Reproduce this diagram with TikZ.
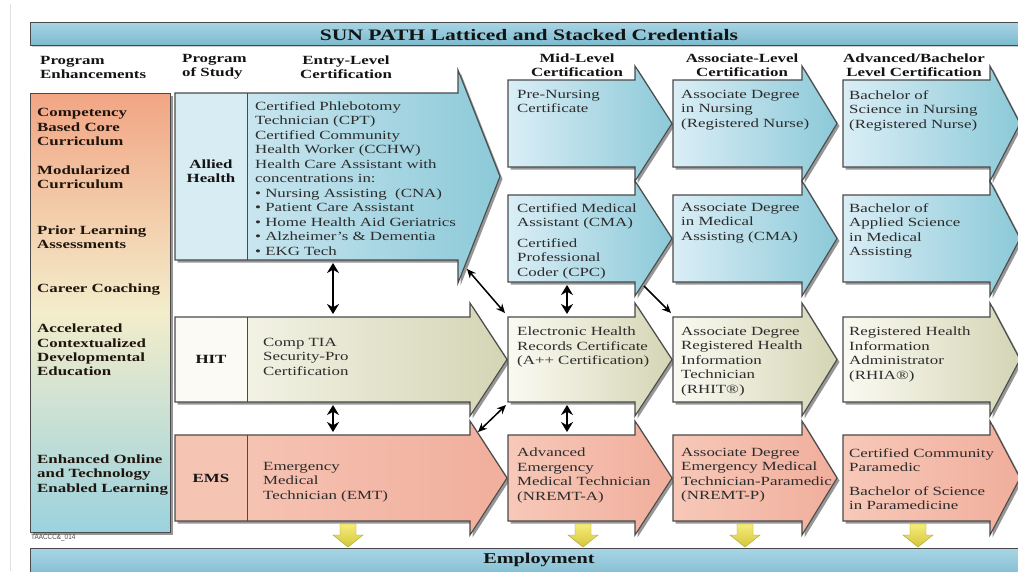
\documentclass[tikz,border=0pt]{standalone}
\usepackage{fontspec}
\setmainfont{Liberation Serif}[FakeStretch=1.35]
\newfontfamily\tagfont{Liberation Sans}[FakeStretch=0.85]
\usetikzlibrary{arrows.meta,shadows}

\definecolor{edge}{HTML}{4A4A4A}
\definecolor{blueL}{HTML}{DAEEF6}
\definecolor{blueR}{HTML}{8CC9D8}
\definecolor{blueLab}{HTML}{D8ECF4}
\definecolor{creamL}{HTML}{FBFAF2}
\definecolor{creamR}{HTML}{D4D5B5}
\definecolor{creamLab}{HTML}{FBFAF4}
\definecolor{salL}{HTML}{F7C8B8}
\definecolor{salR}{HTML}{F1AE9C}
\definecolor{salLab}{HTML}{F6C4B3}
\definecolor{barTop}{HTML}{A8D5E5}
\definecolor{barBot}{HTML}{7DBACE}
\definecolor{enhTop}{HTML}{F2A584}
\definecolor{enhMid}{HTML}{F3EDCB}
\definecolor{enhBot}{HTML}{9CD2DE}
\definecolor{txt}{HTML}{2C2C2C}
\definecolor{hdr}{HTML}{141414}
\definecolor{enhtxt}{HTML}{20150D}
\definecolor{yelL}{HTML}{F6EC78}
\definecolor{yelD}{HTML}{D4C63C}

% credential arrow: #1 style, #2 left, #3 top, #4 neck, #5 bottom, #6 tip, #7 flare
\newcommand{\credarrow}[7]{%
  \path[#1] (#2,#3) -- (#4,#3) -- ({#4},{#3-#7}) -- ({#6},{(#3+#5)/2})
    -- ({#4},{#5+#7}) -- (#4,#5) -- (#2,#5) -- cycle;}
% yellow drop arrow centred on #1
\newcommand{\droparrow}[1]{%
  \path[yel] ({#1-8},524) -- ({#1+8},524) -- ({#1+8},535) -- ({#1+15},535)
    -- (#1,547) -- ({#1-15},535) -- ({#1-8},535) -- cycle;}

\begin{document}
\begin{tikzpicture}[x=1pt,y=-1pt,
  shade/.style={drop shadow={shadow xshift=2.5pt,shadow yshift=-2.5pt,opacity=0.55,fill=black!75}},
  blue arrow/.style={draw=edge,line width=1.1pt,left color=blueL,right color=blueR,shade},
  cream arrow/.style={draw=edge,line width=1.1pt,left color=creamL,right color=creamR,shade},
  salmon arrow/.style={draw=edge,line width=1.1pt,left color=salL,right color=salR,shade},
  bar/.style={draw=edge,line width=1pt,top color=barTop,bottom color=barBot},
  yel/.style={draw=yelD!80!black,line width=0.4pt,top color=yelL,bottom color=yelD},
  body/.style={font=\fontsize{12.5}{14.5}\selectfont,text=txt,align=left,inner sep=0pt,anchor=north west},
  head/.style={font=\bfseries\fontsize{12.5}{14}\selectfont,text=hdr,inner sep=0pt},
  enh/.style={font=\bfseries\fontsize{12.5}{14.2}\selectfont,text=enhtxt,align=left,inner sep=0pt,anchor=west},
  prog/.style={font=\bfseries\fontsize{12.5}{14}\selectfont,text=hdr,align=center,inner sep=0pt},
  vlink/.style={line width=2pt,{Stealth[length=10pt,width=12pt]}-{Stealth[length=10pt,width=12pt]}},
  dlink/.style={line width=1.5pt,{Stealth[length=9pt,width=8pt]}-{Stealth[length=9pt,width=8pt]}},
  olink/.style={line width=1.5pt,-{Stealth[length=9pt,width=8pt]}}]

\useasboundingbox (0,0) rectangle (1018,571);
\clip (0,0) rectangle (1018,571);
\fill[white] (0,0) rectangle (1018,571);
\draw[gray!25,line width=0.8pt] (10,4) -- (10,571);

% title bar
\path[bar,drop shadow={shadow xshift=1.5pt,shadow yshift=-1.5pt,opacity=0.4}] (30,22) rectangle (1030,45);
\node[font=\bfseries\fontsize{16}{18}\selectfont,text=hdr] (title) at (529,35) {SUN PATH Latticed and Stacked Credentials};

% column headings
\node[head,align=left,anchor=west] (h-enh) at (40,67) {Program\\Enhancements};
\node[head,align=left,anchor=west] (h-prog) at (182,67) {Program\\of Study};
\node[head,align=center] (h-entry) at (346,67) {Entry-Level\\Certification};
\node[head,align=center] (h-mid) at (577,65) {Mid-Level\\Certification};
\node[head,align=center] (h-assoc) at (742,65) {Associate-Level\\Certification};
\node[head,align=center] (h-adv) at (914,65) {Advanced/Bachelor\\Level Certification};

% program enhancements column
\path[draw=edge,line width=1pt,top color=enhTop,bottom color=enhBot,middle color=enhMid,shade] (30,93) rectangle (170,532);
\node[enh] (e1) at (37,127) {Competency\\Based Core\\Curriculum};
\node[enh] (e2) at (37,177) {Modularized\\Curriculum};
\node[enh] (e3) at (37,237) {Prior Learning\\Assessments};
\node[enh] (e4) at (37,290) {Career Coaching};
\node[enh] (e5) at (37,350) {Accelerated\\Contextualized\\Developmental\\Education};
\node[enh] (e6) at (37,475) {Enhanced Online\\and Technology\\Enabled Learning};
\node[font=\tagfont\fontsize{7.5}{8}\selectfont,text=black!70,inner sep=0pt,anchor=west] (tag) at (31,538) {TAACCC\&\_014};

% entry-level arrows
\credarrow{blue arrow}{175}{93}{458}{260}{500}{23}
\fill[blueLab] (175.6,93.6) rectangle (247,259.4);
\draw[edge,line width=1pt] (247,93) -- (247,260);
\credarrow{cream arrow}{175}{317}{470}{402}{507}{14}
\fill[creamLab] (175.6,317.6) rectangle (247,401.4);
\draw[edge,line width=1pt] (247,317) -- (247,402);
\credarrow{salmon arrow}{175}{435}{470}{521}{507}{14}
\fill[salLab] (175.6,435.6) rectangle (247,520.4);
\draw[edge,line width=1pt] (247,435) -- (247,521);

\node[prog] (p-ah) at (211,171) {Allied\\Health};
\node[prog] (p-hit) at (211,359) {HIT};
\node[prog] (p-ems) at (211,478) {EMS};

\node[body] (t-ah) at (255,101) {Certified Phlebotomy\\Technician (CPT)\\Certified Community\\Health Worker (CCHW)\\Health Care Assistant with\\concentrations in:\\\textbullet\ Nursing Assisting\ \ (CNA)\\\textbullet\ Patient Care Assistant\\\textbullet\ Home Health Aid Geriatrics\\\textbullet\ Alzheimer's \& Dementia\\\textbullet\ EKG Tech};
\node[body] (t-hit) at (263,338) {Comp TIA\\Security-Pro\\Certification};
\node[body] (t-ems) at (263,462) {Emergency\\Medical\\Technician (EMT)};

% mid, associate and advanced arrows
\foreach \t/\b/\s in {80/167/blue arrow,195/282/blue arrow,317/402/cream arrow,435/521/salmon arrow}{
  \credarrow{\s}{508}{\t}{635}{\b}{672}{14}
  \credarrow{\s}{673}{\t}{802}{\b}{837}{14}
  \credarrow{\s}{843}{\t}{990}{\b}{1020}{14}
}

\node[body] (m1) at (517,90) {Pre-Nursing\\Certificate};
\node[body] (m2) at (517,203) {Certified Medical\\Assistant (CMA)\\[6pt]Certified\\Professional\\Coder (CPC)};
\node[body] (m3) at (517,327) {Electronic Health\\Records Certificate\\(A++ Certification)};
\node[body] (m4) at (517,448) {Advanced\\Emergency\\Medical Technician\\(NREMT-A)};

\node[body] (a1) at (681,90) {Associate Degree\\in Nursing\\(Registered Nurse)};
\node[body] (a2) at (681,203) {Associate Degree\\in Medical\\Assisting (CMA)};
\node[body] (a3) at (681,327) {Associate Degree\\Registered Health\\Information\\Technician\\(RHIT\textregistered)};
\node[body] (a4) at (681,448) {Associate Degree\\Emergency Medical\\Technician-Paramedic\\(NREMT-P)};

\node[body] (b1) at (849,90) {Bachelor of\\Science in Nursing\\(Registered Nurse)};
\node[body] (b2) at (849,203) {Bachelor of\\Applied Science\\in Medical\\Assisting};
\node[body] (b3) at (849,327) {Registered Health\\Information\\Administrator\\(RHIA\textregistered)};
\node[body] (b4) at (849,448) {Certified Community\\Paramedic\\[9pt]Bachelor of Science\\in Paramedicine};

% connectors between credentials
\coordinate (ah-s) at (333,263);  \coordinate (hit-n) at (333,314);
\coordinate (hit-s) at (333,405); \coordinate (ems-n) at (333,432);
\coordinate (cma-s) at (567,285); \coordinate (ehr-n) at (567,314);
\coordinate (ehr-s) at (567,405); \coordinate (aemt-n) at (567,432);
\coordinate (ah-tip) at (467,269); \coordinate (ehr-nw) at (505,313);
\coordinate (ehr-sw) at (506,405); \coordinate (ems-tip) at (478,432);
\coordinate (cma-tip) at (644,286); \coordinate (rhit-nw) at (671,313);
\draw[vlink] (ah-s) -- (hit-n);
\draw[vlink] (hit-s) -- (ems-n);
\draw[vlink] (cma-s) -- (ehr-n);
\draw[vlink] (ehr-s) -- (aemt-n);
\draw[dlink] (ah-tip) -- (ehr-nw);
\draw[dlink] (ehr-sw) -- (ems-tip);
\draw[olink] (cma-tip) -- (rhit-nw);

% employment
\droparrow{348}
\droparrow{583}
\droparrow{745}
\droparrow{918}
\path[bar] (30,548) rectangle (1030,580);
\node[font=\bfseries\fontsize{15}{17}\selectfont,text=hdr] (emp) at (539,560) {Employment};
\end{tikzpicture}
\end{document}
